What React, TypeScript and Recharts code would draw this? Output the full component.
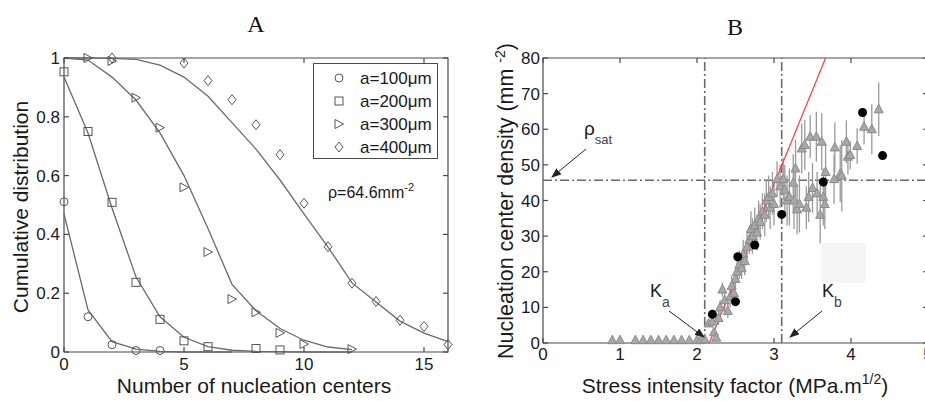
import React from 'react';
import { ComposedChart, XAxis, YAxis, Line, Scatter, ErrorBar, ReferenceLine, ReferenceArea } from 'recharts';

// ---------- Panel A data ----------
const fitX = [0, 1, 2, 3, 4, 5, 6, 7, 8, 9, 10, 11, 12, 13, 14, 15, 16];
const fit100 = [0.47, 0.143, 0.035, 0.01, 0.002, 0, 0, 0];
const fit200 = [0.935, 0.745, 0.49, 0.255, 0.12, 0.05, 0.018, 0.006, 0.002, 0.001, 0, 0, 0];
const fit300 = [1, 0.993, 0.935, 0.857, 0.745, 0.6, 0.42, 0.23, 0.14, 0.08, 0.04, 0.017, 0.008];
const fit400 = [1, 1, 0.999, 0.995, 0.976, 0.935, 0.87, 0.78, 0.69, 0.585, 0.47, 0.357, 0.235, 0.17, 0.105, 0.064, 0.035];

const n100 = [0, 1, 2, 3, 4];
const p100 = [0.511, 0.12, 0.025, 0.005, 0.005];
const n200 = [0, 1, 2, 3, 4, 5, 6, 8, 9];
const p200 = [0.953, 0.75, 0.509, 0.237, 0.111, 0.038, 0.018, 0.012, 0.007];
const n300 = [1, 2, 3, 4, 5, 6, 7, 8, 9, 10, 12];
const p300 = [1.0, 0.99, 0.865, 0.763, 0.56, 0.34, 0.18, 0.135, 0.065, 0.027, 0.01];
const n400 = [2, 5, 6, 7, 8, 9, 10, 11, 12, 13, 14, 15, 16];
const p400 = [1.0, 0.983, 0.923, 0.858, 0.773, 0.671, 0.506, 0.358, 0.234, 0.172, 0.108, 0.087, 0.025];

const seriesLabels = ['a=100\u03bcm', 'a=200\u03bcm', 'a=300\u03bcm', 'a=400\u03bcm'];
const xTicksA = [0, 5, 10, 15];
const yTicksA = [0, 0.2, 0.4, 0.6, 0.8, 1];
const xDomainA = [0, 16];
const yDomainA = [0, 1];

// ---------- Panel B data ----------
// [K (MPa.m^1/2), density (mm^-2), error]
const triangles: [number, number, number][] = [
  [0.9, 0.8, 0], [1.0, 0.8, 0], [1.2, 0.8, 0], [1.3, 0.8, 0], [1.4, 0.8, 0], [1.5, 0.8, 0], [1.6, 0.8, 0],
  [1.7, 0.8, 0], [1.8, 0.8, 0], [1.9, 0.8, 0], [2.0, 0.8, 0], [2.05, 0.8, 0], [2.1, 1, 0.5],
  [2.15, 5.5, 1], [2.2, 6, 1.5], [2.22, 3, 1], [2.25, 1.5, 1], [2.28, 7, 2], [2.3, 10, 2],
  [2.33, 15, 2], [2.36, 12, 3], [2.4, 9, 2], [2.43, 13, 3], [2.45, 16, 3], [2.48, 14, 3],
  [2.5, 18, 3], [2.52, 20, 3], [2.55, 22, 4], [2.58, 21, 3], [2.6, 25, 4], [2.62, 23, 4],
  [2.65, 27, 4], [2.68, 29, 4], [2.7, 32, 5], [2.72, 30, 5], [2.75, 33, 5], [2.78, 31, 5],
  [2.8, 35, 5], [2.82, 34, 5], [2.85, 37, 5], [2.88, 36, 6], [2.9, 40, 6], [2.93, 41, 6],
  [2.95, 38, 6], [2.98, 42, 6], [3.0, 39, 6],
  [3.04, 46, 5], [3.08, 44, 6], [3.12, 46, 6], [3.14, 43, 7], [3.17, 40, 7], [3.2, 41, 8],
  [3.25, 45, 8], [3.26, 40, 8], [3.28, 49, 8], [3.3, 37.5, 7], [3.33, 39, 8], [3.36, 54.6, 7],
  [3.4, 55.6, 7], [3.42, 38, 6], [3.45, 41, 7], [3.47, 57.9, 6], [3.5, 43.5, 7], [3.55, 57.9, 7],
  [3.56, 42, 6], [3.6, 36, 8], [3.62, 56.5, 8], [3.64, 41, 8], [3.66, 39, 7], [3.67, 48, 8],
  [3.78, 46, 7], [3.79, 54.9, 7], [3.86, 47.5, 8], [3.88, 47, 10], [3.94, 56.5, 6], [3.96, 52.3, 5],
  [3.99, 52.8, 4], [4.08, 55.3, 5], [4.17, 60.7, 5], [4.27, 60, 7], [4.36, 65.6, 7.5],
];
const dotK = [2.2, 2.5, 2.53, 2.75, 3.1, 3.64, 4.15, 4.41];
const dotRho = [8.05, 11.6, 24.2, 27.5, 36.1, 45.2, 64.7, 52.6];
const fitK = [2.16, 3.67];
const fitRho = [0, 80];
const Ka = 2.1;
const Kb = 3.1;
const rhoSat = 45.7;
const xTicksB = [0, 1, 2, 3, 4, 5];
const yTicksB = [0, 10, 20, 30, 40, 50, 60, 70, 80];
const xDomainB = [0, 5];
const yDomainB = [0, 80];

// ---------- built tables ----------
const toXY = (xs: number[], ys: number[]) => ys.map((y, i) => ({ x: xs[i], y }));
const fitA = [fit100, fit200, fit300, fit400].map((arr) => toXY(fitX, arr));
const ptsA = [toXY(n100, p100), toXY(n200, p200), toXY(n300, p300), toXY(n400, p400)];
const triData = triangles.map(([x, y, err]) => ({ x, y, err }));
const dotData = toXY(dotK, dotRho);
const fitData = toXY(fitK, fitRho);
// inward tick marks, placed through the chart scales
const tickMarks = (xt: number[], yt: number[], xd: number[], yd: number[]) => ({
  bottom: xt.map((v) => ({ x: v, y: yd[0] })),
  top: xt.map((v) => ({ x: v, y: yd[1] })),
  left: yt.map((v) => ({ x: xd[0], y: v })),
  right: yt.map((v) => ({ x: xd[1], y: v })),
});
const ticksA = tickMarks(xTicksA, yTicksA, xDomainA, yDomainA);
const ticksB = tickMarks(xTicksB, yTicksB, xDomainB, yDomainB);

const FONT = "'Liberation Sans', Arial, Helvetica, sans-serif";
const SERIF = "'Liberation Serif', 'Times New Roman', serif";
const AX = '#4a4a4a';
const MK = '#555';

// ---------- marker shapes ----------
const OCircle = (p: any) => <circle cx={p.cx} cy={p.cy} r={4} fill="none" stroke={MK} strokeWidth={1} />;
const OSquare = (p: any) => <rect x={p.cx - 4} y={p.cy - 4} width={8} height={8} fill="none" stroke={MK} strokeWidth={1} />;
const OTriR = (p: any) => (
  <polygon points={`${p.cx - 4},${p.cy - 4.5} ${p.cx + 4.5},${p.cy} ${p.cx - 4},${p.cy + 4.5}`} fill="none" stroke={MK} strokeWidth={1} />
);
const ODiamond = (p: any) => (
  <polygon points={`${p.cx},${p.cy - 5} ${p.cx + 4},${p.cy} ${p.cx},${p.cy + 5} ${p.cx - 4},${p.cy}`} fill="none" stroke={MK} strokeWidth={1} />
);
const shapesA = [OCircle, OSquare, OTriR, ODiamond];
const TriUp = (p: any) => (
  <polygon points={`${p.cx},${p.cy - 5} ${p.cx + 4.5},${p.cy + 3.5} ${p.cx - 4.5},${p.cy + 3.5}`} fill="#a8a8a8" stroke="#8a8a8a" strokeWidth={1} />
);
const BlackDot = (p: any) => <circle cx={p.cx} cy={p.cy} r={4.5} fill="#000" />;

const TL = 5;
const TickShape = (dx: number, dy: number) => (p: any) => (
  <path d={`M${p.cx},${p.cy} L${p.cx + dx * TL},${p.cy + dy * TL}`} stroke={AX} strokeWidth={1.2} fill="none" />
);
const TickUp = TickShape(0, -1);
const TickDown = TickShape(0, 1);
const TickIn = TickShape(1, 0);
const TickOut = TickShape(-1, 0);

// ---------- axis tick labels ----------
const mkLabel = (side: string, off: number, fs: number) => (props: any) => {
  const x = Number(props.x);
  const y = Number(props.y);
  const t = String(props.payload.value);
  if (side === 'bottom')
    return <text x={x} y={y + off} textAnchor="middle" fontSize={fs} fill="#1a1a1a" fontFamily={FONT}>{t}</text>;
  return <text x={x - off} y={y + 6} textAnchor="end" fontSize={fs} fill="#1a1a1a" fontFamily={FONT}>{t}</text>;
};

const axisCommon = { tickSize: 0, tickMargin: 0, interval: 0 as const, axisLine: false, tickLine: false };

function tickScatters(t: any) {
  return [
    <Scatter key="tb" xAxisId="b" yAxisId="l" data={t.bottom} dataKey="y" shape={TickUp} isAnimationActive={false} />,
    <Scatter key="tt" xAxisId="b" yAxisId="l" data={t.top} dataKey="y" shape={TickDown} isAnimationActive={false} />,
    <Scatter key="tl" xAxisId="b" yAxisId="l" data={t.left} dataKey="y" shape={TickIn} isAnimationActive={false} />,
    <Scatter key="tr" xAxisId="b" yAxisId="l" data={t.right} dataKey="y" shape={TickOut} isAnimationActive={false} />,
  ];
}

function PanelA() {
  return (
    <ComposedChart width={460} height={401} margin={{ top: 58, right: 12, bottom: 0, left: 0 }}>
      <XAxis xAxisId="b" type="number" dataKey="x" domain={xDomainA} ticks={xTicksA} height={49} orientation="bottom" tick={mkLabel('bottom', 18, 17)} {...axisCommon} />
      <YAxis yAxisId="l" type="number" domain={yDomainA} ticks={yTicksA} width={64} orientation="left" tick={mkLabel('left', 4, 17)} {...axisCommon} />
      <ReferenceArea xAxisId="b" yAxisId="l" x1={xDomainA[0]} x2={xDomainA[1]} y1={yDomainA[0]} y2={yDomainA[1]} fill="none" fillOpacity={0} stroke={AX} strokeWidth={1.2} ifOverflow="visible" />
      {tickScatters(ticksA)}
      {fitA.map((d, i) => (
        <Line key={'f' + i} xAxisId="b" yAxisId="l" data={d} dataKey="y" type="linear" stroke="#6a6a6a" strokeWidth={1.3} dot={false} isAnimationActive={false} />
      ))}
      {ptsA.map((d, i) => (
        <Scatter key={'p' + i} xAxisId="b" yAxisId="l" data={d} dataKey="y" shape={shapesA[i]} isAnimationActive={false} />
      ))}
    </ComposedChart>
  );
}

function PanelB() {
  return (
    <ComposedChart width={470} height={401} margin={{ top: 58, right: 2, bottom: 0, left: 0 }}>
      <XAxis xAxisId="b" type="number" dataKey="x" domain={xDomainB} ticks={xTicksB} height={58} orientation="bottom" tick={mkLabel('bottom', 17, 17)} {...axisCommon} />
      <YAxis yAxisId="l" type="number" domain={yDomainB} ticks={yTicksB} width={83} orientation="left" tick={mkLabel('left', 3, 17)} {...axisCommon} />
      <ReferenceArea xAxisId="b" yAxisId="l" x1={xDomainB[0]} x2={xDomainB[1]} y1={yDomainB[0]} y2={yDomainB[1]} fill="none" fillOpacity={0} stroke={AX} strokeWidth={1.2} ifOverflow="visible" />
      {tickScatters(ticksB)}
      <ReferenceLine xAxisId="b" yAxisId="l" x={Ka} stroke="#6a6a6a" strokeWidth={1.6} strokeDasharray="9 3 2 3" />
      <ReferenceLine xAxisId="b" yAxisId="l" x={Kb} stroke="#6a6a6a" strokeWidth={1.6} strokeDasharray="9 3 2 3" />
      <ReferenceLine xAxisId="b" yAxisId="l" y={rhoSat} stroke="#6a6a6a" strokeWidth={1.6} strokeDasharray="9 3 2 3" />
      <Scatter xAxisId="b" yAxisId="l" data={triData} dataKey="y" shape={TriUp} isAnimationActive={false}>
        <ErrorBar dataKey="err" direction="y" width={0} stroke="#9a9a9a" strokeWidth={1.3} isAnimationActive={false} />
      </Scatter>
      <Line xAxisId="b" yAxisId="l" data={fitData} dataKey="y" type="linear" stroke="#ff3b3b" strokeWidth={1.2} dot={false} isAnimationActive={false} />
      <Scatter xAxisId="b" yAxisId="l" data={dotData} dataKey="y" shape={BlackDot} isAnimationActive={false} />
    </ComposedChart>
  );
}

function Overlay() {
  const txt = { fontFamily: FONT, fill: '#1a1a1a' } as const;
  return (
    <svg width={925} height={401} style={{ position: 'absolute', left: 0, top: 0, pointerEvents: 'none' }}>
      <defs>
        <marker id="ah" markerWidth="10" markerHeight="8" refX="9" refY="4" orient="auto" markerUnits="userSpaceOnUse">
          <path d="M0,0 L10,4 L0,8 z" fill="#222" />
        </marker>
      </defs>
      {/* titles */}
      <text x={256} y={32} textAnchor="middle" fontFamily={SERIF} fontSize={24} fill="#111">A</text>
      <text x={735} y={35} textAnchor="middle" fontFamily={SERIF} fontSize={24} fill="#111">B</text>
      {/* panel A labels */}
      <text transform="translate(28,207) rotate(-90)" textAnchor="middle" fontSize={21} {...txt}>Cumulative distribution</text>
      <text x={254} y={393} textAnchor="middle" fontSize={21} {...txt}>Number of nucleation centers</text>
      <text x={328} y={198} fontSize={16} {...txt}>
        {'\u03c1=64.6mm'}<tspan dy={-7} fontSize={11}>-2</tspan>
      </text>
      {/* legend A */}
      <rect x={313.5} y={63.5} width={124} height={95} fill="#fff" stroke={AX} strokeWidth={1} />
      {seriesLabels.map((s, i) => {
        const Sh = shapesA[i];
        const cy = 78 + 23 * i;
        return (
          <g key={s}>
            <Sh cx={339} cy={cy} />
            <text x={360} y={cy + 6} fontSize={17} {...txt}>{s}</text>
          </g>
        );
      })}
      {/* panel B labels */}
      <text transform="translate(513,201) rotate(-90)" textAnchor="middle" fontSize={21.5} {...txt}>
        {'Nucleation center density (mm '}<tspan dy={-8} fontSize={14}>-2</tspan><tspan dy={8}>)</tspan>
      </text>
      <text x={735} y={393} textAnchor="middle" fontSize={21} {...txt}>
        {'Stress intensity factor (MPa.m'}<tspan dy={-9} fontSize={14}>1/2</tspan><tspan dy={9}>)</tspan>
      </text>
      {/* rho_sat */}
      <text x={584} y={135} fontSize={19} {...txt}>
        {'\u03c1'}<tspan dy={9} fontSize={13} fill="#444">sat</tspan>
      </text>
      <line x1={586} y1={149} x2={552} y2={177} stroke="#222" strokeWidth={1} markerEnd="url(#ah)" />
      {/* Ka */}
      <text x={650} y={297} fontSize={18} {...txt}>
        K<tspan dy={10} fontSize={14} fill="#444">a</tspan>
      </text>
      <line x1={669} y1={311} x2={704} y2={337} stroke="#222" strokeWidth={1} markerEnd="url(#ah)" />
      {/* Kb */}
      <text x={822} y={297} fontSize={18} {...txt}>
        K<tspan dy={10} fontSize={14} fill="#444">b</tspan>
      </text>
      <line x1={822} y1={311} x2={790} y2={337} stroke="#222" strokeWidth={1} markerEnd="url(#ah)" />
      {/* faint box */}
      <rect x={821} y={243} width={45} height={40} rx={4} fill="#f5f5f5" />
    </svg>
  );
}

export default function App() {
  return (
    <div style={{ position: 'absolute', left: 0, top: 0, width: 925, height: 401, overflow: 'hidden', background: '#fff', fontFamily: FONT }}>
      <div style={{ position: 'absolute', left: 0, top: 0 }}>
        <PanelA />
      </div>
      <div style={{ position: 'absolute', left: 460, top: 0 }}>
        <PanelB />
      </div>
      <Overlay />
    </div>
  );
}
